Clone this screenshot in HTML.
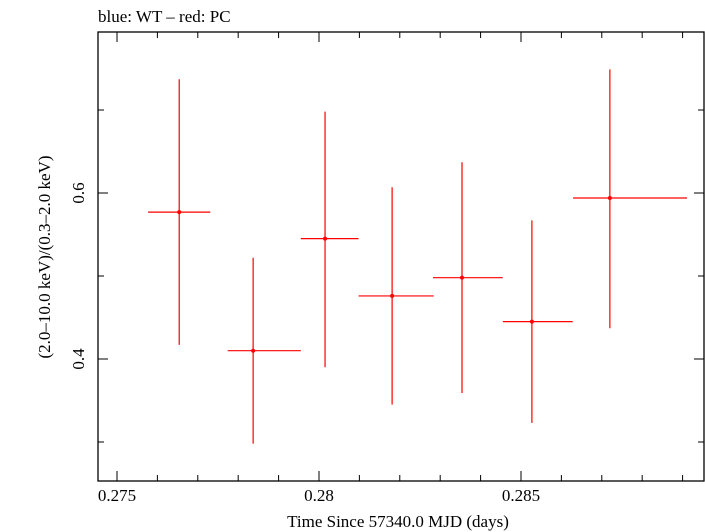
<!DOCTYPE html>
<html><head><meta charset="utf-8"><style>
body{margin:0;background:#fff;}
svg{display:block;font-family:"Liberation Serif",serif;}
</style></head><body>
<svg id="chart" width="705" height="532" viewBox="0 0 705 532">
<text x="98" y="22" font-size="17">blue: WT – red: PC</text>
<rect x="98" y="32" width="606" height="449" fill="none" stroke="#000" stroke-width="1.3"/>
<g id="ticks"></g>
<g id="marks"></g>
<text x="398" y="527" font-size="17" text-anchor="middle">Time Since 57340.0 MJD (days)</text>
<text transform="translate(50,257) rotate(-90)" font-size="17" text-anchor="middle">(2.0–10.0 keV)/(0.3–2.0 keV)</text>
</svg>
<script>
const xVals=[0.27654,0.27837,0.28015,0.28181,0.28354,0.28527,0.2872];
const xLo=[0.27577,0.27576,0.27795,0.27938,0.28279,0.28524,0.28713];
const xHi=[0.27731,0.27794,0.28094,0.28267,0.28443,0.28699,0.28824];
const yVals=[0.577,0.41,0.545,0.476,0.498,0.445,0.594];
const yTop=[0.737,0.522,0.698,0.607,0.637,0.567,0.749];
const yBot=[0.417,0.298,0.39,0.345,0.359,0.323,0.437];
const xMajor=[0.275,0.28,0.285];
const xMajorLabels=["0.275","0.28","0.285"];
const yMajor=[0.4,0.6];
const yMajorLabels=["0.4","0.6"];
const yMinor=[0.3,0.5,0.7];
// fix xLo/xHi as bin edges
xLo.splice(0,7,0.27577,0.27774,0.27955,0.28098,0.28282,0.28455,0.28629);
xHi.splice(0,7,0.27731,0.27955,0.28098,0.28284,0.28455,0.28628,0.28911);
const X0=98,X1=704,Y0=32,Y1=481,xd=[0.27453,0.28953],yd=[0.253,0.794];
const sx=v=>X0+(v-xd[0])/(xd[1]-xd[0])*(X1-X0);
const sy=v=>Y1-(v-yd[0])/(yd[1]-yd[0])*(Y1-Y0);
const NS="http://www.w3.org/2000/svg";
function mk(t,a,p){const e=document.createElementNS(NS,t);for(const k in a)e.setAttribute(k,a[k]);p.appendChild(e);return e;}
const tk=document.getElementById('ticks'),mg=document.getElementById('marks'),svg=document.getElementById('chart');
for(let v=0.275;v<0.2895;v+=0.001){const x=sx(v);const maj=xMajor.some(m=>Math.abs(m-v)<1e-6);const L=maj?10:6;
 const t1=mk('line',{x1:x,x2:x,y1:Y1,y2:Y1-L,stroke:'#000','stroke-width':1},tk);
 
 
 mk('line',{x1:x,x2:x,y1:Y0,y2:Y0+L,stroke:'#000','stroke-width':1},tk);}
xMajor.forEach((v,i)=>{const t=mk('text',{x:sx(v),y:501,'font-size':17,'text-anchor':'middle'},svg);t.textContent=xMajorLabels[i];
 
 });
yMajor.concat(yMinor).forEach(v=>{const y=sy(v);const L=yMajor.includes(v)?10:6;
 const t1=mk('line',{x1:X0,x2:X0+L,y1:y,y2:y,stroke:'#000','stroke-width':1},tk);
 
 
 mk('line',{x1:X1,x2:X1-L,y1:y,y2:y,stroke:'#000','stroke-width':1},tk);});
yMajor.forEach((v,i)=>{const t=mk('text',{transform:`translate(84,${sy(v)}) rotate(-90)`,'font-size':17,'text-anchor':'middle'},svg);t.textContent=yMajorLabels[i];
 
 });
xVals.forEach((v,i)=>{const g=mk('g',{},mg);
 
 
 mk('line',{x1:sx(xLo[i]),x2:sx(xHi[i]),y1:sy(yVals[i]),y2:sy(yVals[i]),stroke:'#f00','stroke-width':1.2},g);
 mk('line',{x1:sx(v),x2:sx(v),y1:sy(yTop[i]),y2:sy(yBot[i]),stroke:'#f00','stroke-width':1.2},g);
 mk('circle',{cx:sx(v),cy:sy(yVals[i]),r:2,fill:'#f00'},g);});
</script>
</body></html>
